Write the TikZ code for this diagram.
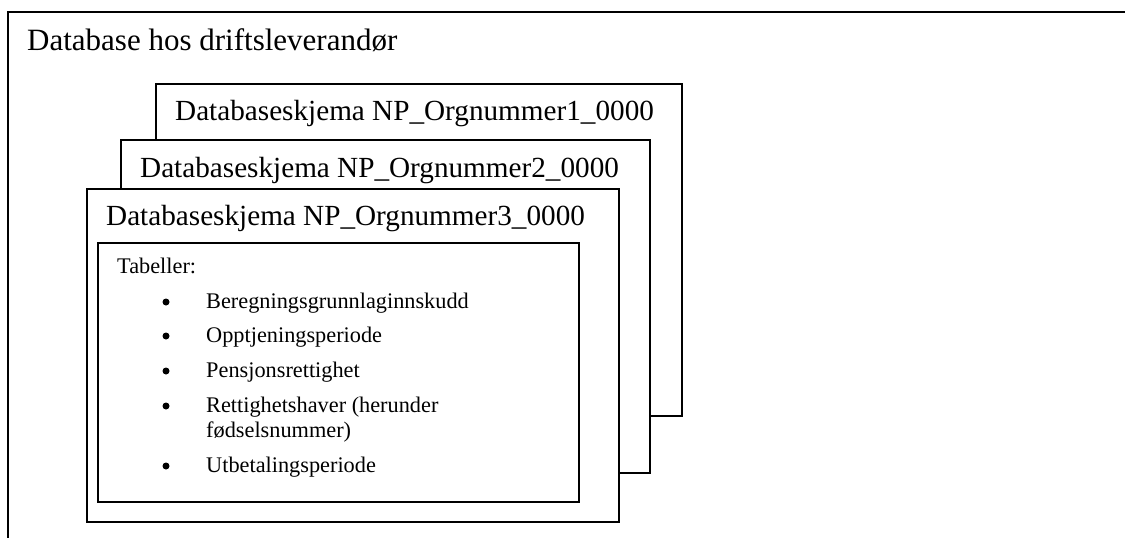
\documentclass[tikz,border=0pt]{standalone}
\usepackage{fontspec}
\setmainfont{Liberation Serif}
\newcommand{\bigtxt}{\fontsize{31}{37}\selectfont}
\newcommand{\midtxt}{\fontsize{29.2}{35}\selectfont}
\newcommand{\smalltxt}{\fontsize{22.3}{25}\selectfont}
\begin{document}
\begin{tikzpicture}[x=1pt,y=-1pt]
        \useasboundingbox (0,0) rectangle (1125,538);
        % outer frame, cut off at the right and bottom
        \draw[line width=1.6pt] (8,538) -- (8,12) -- (1125,12);
        \node (db) [anchor=base west, inner sep=0pt, font=\bigtxt] at (27,50) {Database hos driftsleverandør};
        \begin{scope}[every node/.style={draw,fill=white,line width=1.6pt,anchor=north west,inner sep=0pt}]
            \node (s1) [minimum width=526pt, minimum height=332pt] at (155,83) {};
            \node (s2) [minimum width=529pt, minimum height=333pt] at (120,139) {};
            \node (s3) [minimum width=532pt, minimum height=333pt] at (86,188) {};
            \node (tab) [minimum width=481pt, minimum height=259pt] at (97,242) {};
        \end{scope}
        \begin{scope}[every node/.style={anchor=base west,inner sep=0pt,font=\midtxt}]
            \node (t1) at (175,120) {Databaseskjema NP\_Orgnummer1\_0000};
            \node (t2) at (140,177) {Databaseskjema NP\_Orgnummer2\_0000};
            \node (t3) at (106,225) {Databaseskjema NP\_Orgnummer3\_0000};
        \end{scope}
        \begin{scope}[every node/.style={circle,fill=black,inner sep=0pt,minimum size=7pt}]
            \node (b1) at (166,302) {};
            \node (b2) at (166,336) {};
            \node (b3) at (166,371) {};
            \node (b4) at (166,406) {};
            \node (b5) at (166,466) {};
        \end{scope}
        \begin{scope}[every node/.style={anchor=base west,inner sep=0pt,font=\smalltxt}]
            \node (hd) at (117,273) {Tabeller:};
            \node (i1) at (206,308) {Beregningsgrunnlaginnskudd};
            \node (i2) at (206,342) {Opptjeningsperiode};
            \node (i3) at (206,377) {Pensjonsrettighet};
            \node (i4) at (206,412) {Rettighetshaver (herunder};
            \node (i4b) at (206,437) {fødselsnummer)};
            \node (i5) at (206,472) {Utbetalingsperiode};
        \end{scope}
    \end{tikzpicture}
\end{document}
